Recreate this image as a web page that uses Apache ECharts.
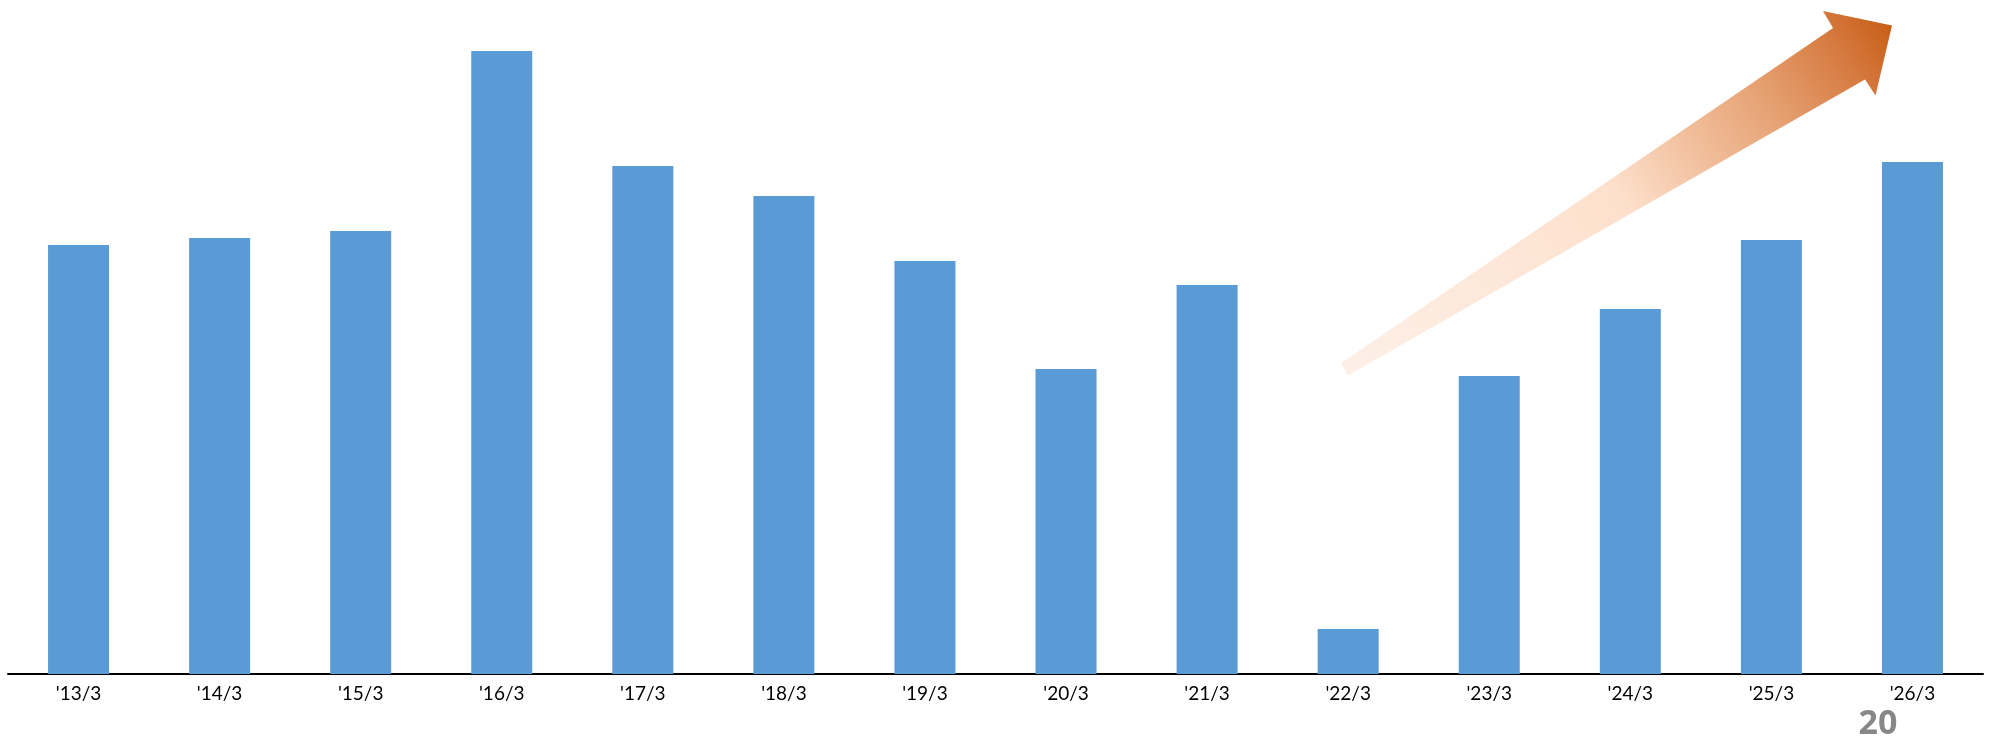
<!DOCTYPE html>
<html>
<head>
<meta charset="utf-8">
<script src="https://cdn.jsdelivr.net/npm/echarts@6/dist/echarts.min.js"></script>
<style>
html,body{margin:0;padding:0;background:#fff;}
#chart{width:1993px;height:742px;}
</style>
</head>
<body>
<div id="chart"></div>
<script>
const categories = ["'13/3","'14/3","'15/3","'16/3","'17/3","'18/3","'19/3","'20/3","'21/3","'22/3","'23/3","'24/3","'25/3","'26/3"];
const values = [429, 436, 443, 623, 508, 478, 413, 305, 389, 45, 298, 365, 434, 512];
const pageNumber = "20";

const chart = echarts.init(document.getElementById('chart'), null, {renderer: 'canvas'});
chart.setOption({
  animation: false,
  backgroundColor: '#ffffff',
  grid: {left: 8, right: 10, top: 0, bottom: 68, containLabel: false},
  xAxis: {
    type: 'category',
    data: categories,
    axisTick: {show: false},
    axisLine: {lineStyle: {color: '#000000', width: 2}},
    axisLabel: {color: '#000000', fontFamily: 'Lato', fontSize: 19, margin: 10}
  },
  yAxis: {
    type: 'value', min: 0, max: 674,
    show: false,
    splitLine: {show: false}
  },
  series: [{
    type: 'bar',
    data: values,
    barWidth: 61,
    itemStyle: {color: '#5b9bd5'}
  }],
  graphic: [
    {
      type: 'polygon',
      shape: {points: [[1341, 363], [1833, 28], [1823, 11], [1892, 25.5], [1875.5, 95.5], [1865, 79.5], [1348, 375.5]]},
      style: {
        fill: new echarts.graphic.LinearGradient(0, 1, 1, 0, [
          {offset: 0, color: '#fdf0e8'},
          {offset: 0.5, color: '#fde0cc'},
          {offset: 0.62, color: '#f3c3a2'},
          {offset: 0.76, color: '#e6a375'},
          {offset: 0.9, color: '#d67a40'},
          {offset: 1, color: '#c55a11'}
        ])
      }
    },
    {
      type: 'text',
      style: {
        text: pageNumber, x: 1878, y: 724,
        textAlign: 'center', textVerticalAlign: 'middle', verticalAlign: 'middle',
        fontFamily: 'Open Sans', fontWeight: 'bold', fontSize: 34, fill: '#878787'
      }
    }
  ]
});
</script>
</body>
</html>
